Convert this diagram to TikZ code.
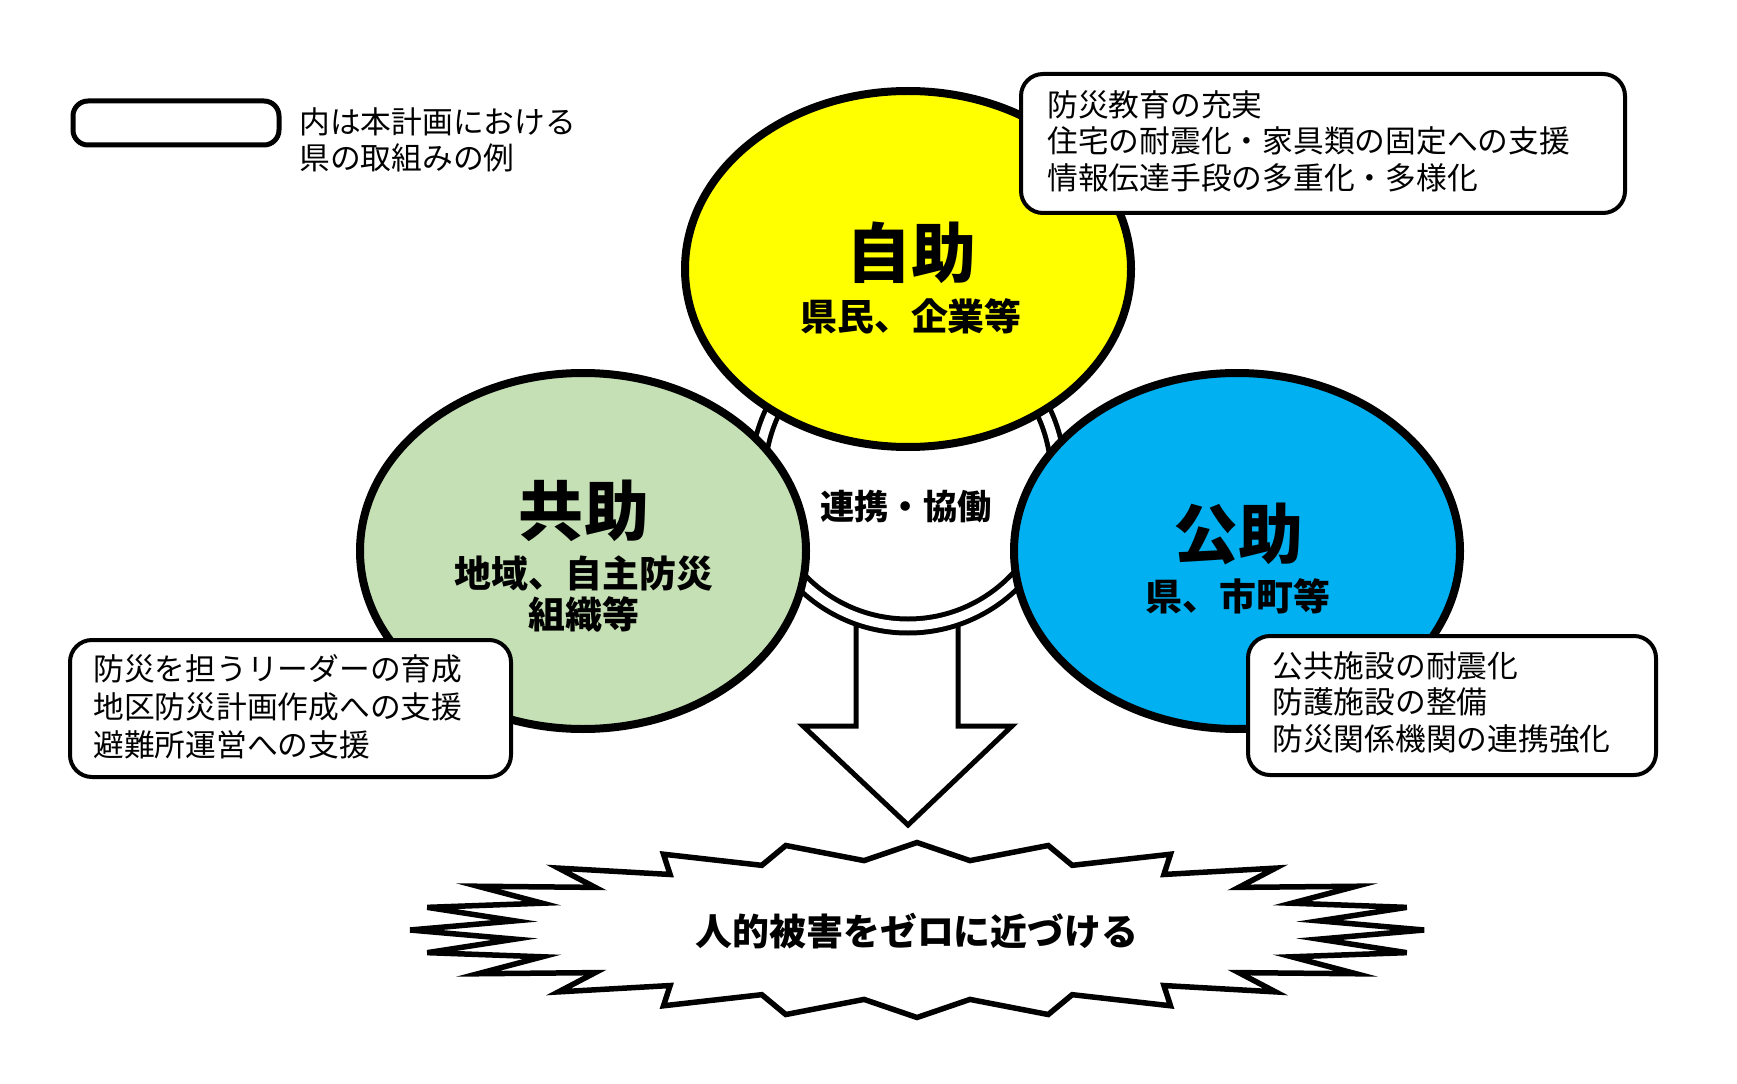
\documentclass[tikz,border=0pt]{standalone}
\usepackage{fontspec}
\setmainfont{Noto Sans CJK JP}
\usepackage{xcolor}
\usepackage{tikz}
\usetikzlibrary{positioning}
\definecolor{selfyellow}{HTML}{FFFF00}
\definecolor{mutualgreen}{HTML}{C5E0B4}
\definecolor{publicblue}{HTML}{00B0F0}

\begin{document}
\begin{tikzpicture}[x=0.02cm, y=-0.02cm,
    circletitle/.style={inner sep=0pt, font=\bfseries\fontsize{37}{44}\selectfont},
    circlesub/.style={inner sep=0pt, align=center, font=\bfseries\fontsize{21}{23.8}\selectfont},
    infobox/.style={draw=black, fill=white, line width=0.08cm, rounded corners=0.44cm},
    infotext/.style={anchor=west, align=left, inner sep=0pt, font=\fontsize{17.5}{20.8}\selectfont}]
    \useasboundingbox (0,0) rectangle (1737,1084);

    \draw[line width=0.1cm, fill=white] (856,600) -- (856,726) -- (803,726) -- (908,825)
        -- (1012,726) -- (958,726) -- (958,600) -- cycle;
    \draw[fill=white, line width=0.1cm, double=white, double distance=0.18cm] (908,476) circle [radius=150];

    \foreach \cx/\cy/\col in {908/269/selfyellow, 583/551/mutualgreen, 1237/551/publicblue} {
        \draw[fill=\col, line width=0.16cm] (\cx,\cy) ellipse [x radius=223, y radius=178];
    }

    \node[circletitle] (selftitle) at (911,253) {自助};
    \node[circlesub] (selfsub) at (911,316) {県民、企業等};
    \node[circletitle] (mutualtitle) at (584,511) {共助};
    \node[circlesub] (mutualsub) at (584,594) {地域、自主防災\\組織等};
    \node[circletitle] (publictitle) at (1238,534) {公助};
    \node[circlesub] (publicsub) at (1238,596) {県、市町等};
    \node[inner sep=0pt, font=\bfseries\fontsize{19.5}{22}\selectfont] (linktext) at (906,507) {連携・協働};

    \draw[line width=0.11cm, fill=white] plot[samples at={0,...,47}]
        ({917+507*(1-0.2*mod(\x,2))*cos(\x*7.5)}, {930+87.5*(1-0.2*mod(\x,2))*sin(\x*7.5)}) -- cycle;
    \node[inner sep=0pt, font=\bfseries\fontsize{21}{24}\selectfont] (goaltext) at (917,931) {人的被害をゼロに近づける};

    \draw[infobox] (1021,74) rectangle (1625,213);
    \node[infotext] (selfacts) at (1047,141) {防災教育の充実\\住宅の耐震化・家具類の固定への支援\\情報伝達手段の多重化・多様化};
    \draw[infobox] (70,640) rectangle (511,777);
    \node[infotext, font=\fontsize{17.5}{21.5}\selectfont] (mutualacts) at (93,707) {防災を担うリーダーの育成\\地区防災計画作成への支援\\避難所運営への支援};
    \draw[infobox] (1248,636) rectangle (1656,775);
    \node[infotext] (publicacts) at (1272,702) {公共施設の耐震化\\防護施設の整備\\防災関係機関の連携強化};

    \draw[line width=0.1cm, rounded corners=0.3cm] (73,101) rectangle (279,145);
    \node[infotext, font=\fontsize{17.5}{20.4}\selectfont] (legendnote) at (299,140) {内は本計画における\\県の取組みの例};
\end{tikzpicture}
\end{document}
